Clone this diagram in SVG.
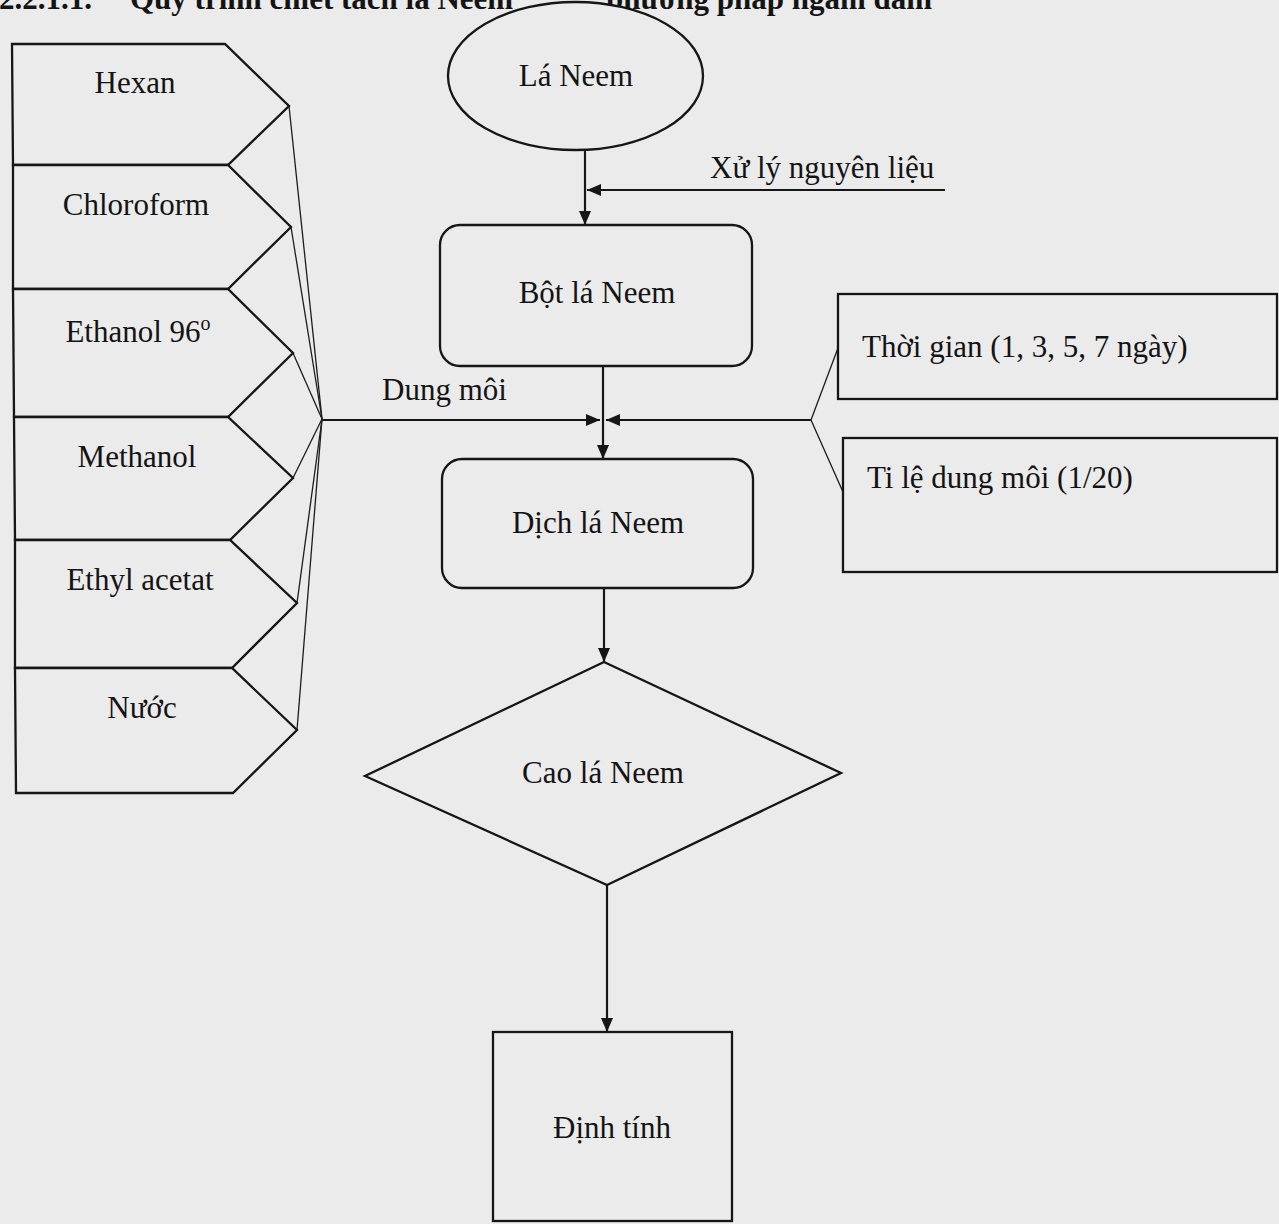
<svg xmlns="http://www.w3.org/2000/svg" width="1279" height="1224" viewBox="0 0 1279 1224">
  <defs>
    <style>
      .t { font-family: "Liberation Serif", "Times New Roman", serif; font-size: 31px; fill: #141414; }
      .m { text-anchor: middle; }
      .title { font-family: "Liberation Serif", "Times New Roman", serif; font-size: 31px; font-weight: bold; fill: #141414; }
      .shape { fill: #ebebeb; stroke: #161616; stroke-width: 2.3; }
      .line { fill: none; stroke: #161616; stroke-width: 2.2; }
      .thin { fill: none; stroke: #1c1c1c; stroke-width: 1.3; }
    </style>
    <marker id="arr" viewBox="0 0 14 12" refX="14" refY="6" markerWidth="14" markerHeight="12" markerUnits="userSpaceOnUse" orient="auto">
      <path d="M0,0 L14,6 L0,12 Z" fill="#161616"/>
    </marker>
  </defs>

  <rect x="0" y="0" width="1279" height="1224" fill="#ebebeb"/>

  <!-- title (partly covered by the ellipse) -->
  <g id="title">
    <text class="title" x="-1" y="9">2.2.1.1.</text>
    <text class="title" x="130" y="9">Quy trình chiết tách lá Neem</text>
    <text class="title" x="606" y="9">phương pháp ngâm dầm</text>
  </g>

  <!-- connectors -->
  <g id="connectors">
    <line class="line" x1="585" y1="150" x2="585" y2="225" marker-end="url(#arr)"/>
    <line class="line" x1="945" y1="190" x2="587" y2="190" marker-end="url(#arr)"/>
    <line class="line" x1="603" y1="367" x2="603" y2="459" marker-end="url(#arr)"/>
    <line class="line" x1="322" y1="420" x2="600" y2="420" marker-end="url(#arr)"/>
    <line class="line" x1="811" y1="420" x2="606" y2="420" marker-end="url(#arr)"/>
    <line class="line" x1="604" y1="588" x2="604" y2="662" marker-end="url(#arr)"/>
    <line class="line" x1="607" y1="885" x2="607" y2="1032" marker-end="url(#arr)"/>
    <!-- solvent fan-in -->
    <polyline class="thin" points="289,106 322,419"/>
    <polyline class="thin" points="291,227 322,419"/>
    <polyline class="thin" points="293,353 322,419"/>
    <polyline class="thin" points="293,478 322,419"/>
    <polyline class="thin" points="297,603 322,419"/>
    <polyline class="thin" points="297,730 322,419"/>
    <!-- condition fan-out -->
    <polyline class="thin" points="838,348 811,420 843,492"/>
  </g>

  <g id="node-la-neem">
    <ellipse class="shape" cx="575.5" cy="76" rx="127.5" ry="74"/>
    <text class="t m" x="576" y="86">Lá Neem</text>
  </g>
  <g id="label-xu-ly">
    <text class="t" x="710" y="178">Xử lý nguyên liệu</text>
  </g>
  <g id="node-bot-la-neem">
    <rect class="shape" x="440" y="225" width="312" height="141" rx="20" ry="20"/>
    <text class="t m" x="597" y="303">Bột lá Neem</text>
  </g>
  <g id="label-dung-moi">
    <text class="t" x="382" y="400">Dung môi</text>
  </g>
  <g id="node-dich-la-neem">
    <rect class="shape" x="442" y="459" width="311" height="129" rx="20" ry="20"/>
    <text class="t m" x="598" y="533">Dịch lá Neem</text>
  </g>
  <g id="node-cao-la-neem">
    <polygon class="shape" points="604,662 841,773 607,885 365,776"/>
    <text class="t m" x="603" y="783">Cao lá Neem</text>
  </g>
  <g id="node-dinh-tinh">
    <rect class="shape" x="493" y="1032" width="239" height="189"/>
    <text class="t m" x="612" y="1138">Định tính</text>
  </g>

  <g id="node-thoi-gian">
    <rect class="shape" x="838" y="294" width="439" height="105"/>
    <text class="t" x="862" y="357">Thời gian (1, 3, 5, 7 ngày)</text>
  </g>
  <g id="node-ti-le">
    <rect class="shape" x="843" y="438" width="434" height="134"/>
    <text class="t" x="867" y="488">Ti lệ dung môi (1/20)</text>
  </g>

  <g id="node-hexan">
    <polygon class="shape" points="12,44 225,44 289,106 228,165 13,165"/>
    <text class="t m" x="135" y="93">Hexan</text>
  </g>
  <g id="node-chloroform">
    <polygon class="shape" points="13,165 228,165 291,227 228,289 13,289"/>
    <text class="t m" x="136" y="215">Chloroform</text>
  </g>
  <g id="node-ethanol">
    <polygon class="shape" points="13,289 228,289 293,353 228,417 14,417"/>
    <text class="t m" x="138" y="342">Ethanol 96<tspan dy="-12" font-size="20">o</tspan></text>
  </g>
  <g id="node-methanol">
    <polygon class="shape" points="14,417 228,417 293,478 230,540 15,540"/>
    <text class="t m" x="137" y="467">Methanol</text>
  </g>
  <g id="node-ethyl-acetat">
    <polygon class="shape" points="15,540 230,540 297,603 232,668 15,668"/>
    <text class="t m" x="140" y="590">Ethyl acetat</text>
  </g>
  <g id="node-nuoc">
    <polygon class="shape" points="15,668 232,668 297,730 233,793 16,793"/>
    <text class="t m" x="142" y="718">Nước</text>
  </g>
</svg>
